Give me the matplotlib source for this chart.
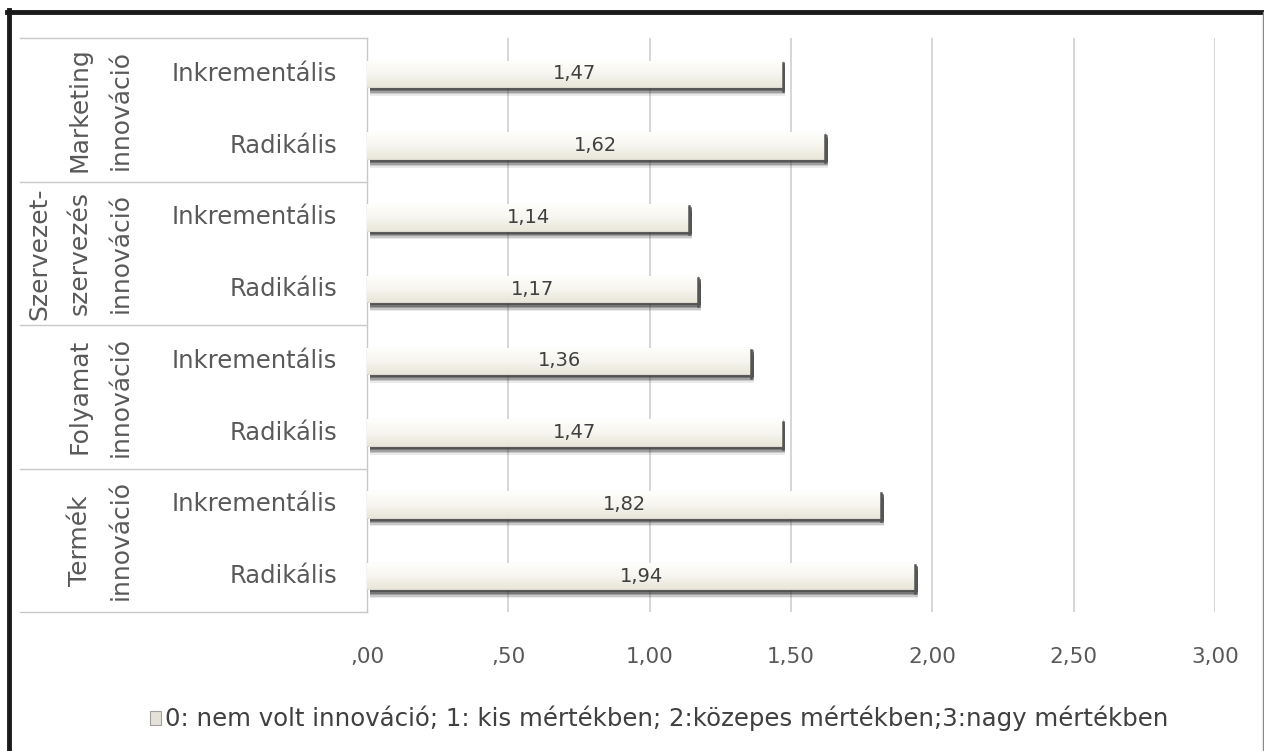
import matplotlib
matplotlib.use("Agg")
import matplotlib.pyplot as plt
from matplotlib.lines import Line2D
from matplotlib.patches import Rectangle
from matplotlib.colors import LinearSegmentedColormap
import numpy as np

groups = ["Marketing\ninnováció", "Szervezet-\nszervezés\ninnováció",
          "Folyamat\ninnováció", "Termék\ninnováció"]
subcats = ["Inkrementális", "Radikális"]
values = [1.47, 1.62, 1.14, 1.17, 1.36, 1.47, 1.82, 1.94]
value_labels = ["1,47", "1,62", "1,14", "1,17", "1,36", "1,47", "1,82", "1,94"]
xticks = [0.0, 0.5, 1.0, 1.5, 2.0, 2.5, 3.0]
xtick_labels = [",00", ",50", "1,00", "1,50", "2,00", "2,50", "3,00"]
legend_text = "0: nem volt innováció; 1: kis mértékben; 2:közepes mértékben;3:nagy mértékben"

W, H = 1264, 751
fig = plt.figure(figsize=(W / 100, H / 100), dpi=100)
fig.patch.set_facecolor("white")

def fx(px):
    return px / W

def fy(py):
    return 1 - py / H

FONT = "DejaVu Sans"
TXT = "#595959"

ax_l, ax_r, ax_t, ax_b = 367, 1215, 38, 612
ax = fig.add_axes([fx(ax_l), fy(ax_b), fx(ax_r - ax_l), fy(ax_t) - fy(ax_b)])
n = len(values)
ax.set_facecolor("white")
for s in ["top", "right", "bottom"]:
    ax.spines[s].set_visible(False)
ax.spines["left"].set_color("#c8c8c8")
ax.spines["left"].set_linewidth(1.0)
ax.set_yticks([])
ax.set_xticks(xticks)
ax.set_xticklabels(xtick_labels, fontsize=15.5, color=TXT, family=FONT)
ax.tick_params(axis="x", length=0, pad=25)
ax.grid(axis="x", color="#d0d0d0", linewidth=1.2)
ax.set_axisbelow(True)

bar_h = 0.37
grad = np.linspace(0, 1, 64).reshape(-1, 1)
cmap = LinearSegmentedColormap.from_list("cream", ["#fefefd", "#f7f6f0", "#e9e6d9"])
for i, v in enumerate(values):
    # blurred shadow below the bar
    for off, a in [(0.12, 0.1), (0.10, 0.18), (0.08, 0.28), (0.06, 0.38), (0.04, 0.5)]:
        ax.add_patch(Rectangle((0.01, i - bar_h / 2 + off), v, bar_h,
                               facecolor="#333333", edgecolor="none", alpha=a, zorder=2))
    bar = ax.barh(i, v, height=bar_h, color="#f4f2ea", edgecolor="#dcdad0",
                  linewidth=0.8, zorder=3)[0]
    im = ax.imshow(grad, extent=[0, v, i + bar_h / 2, i - bar_h / 2], cmap=cmap,
                   aspect="auto", zorder=4, origin="upper")
    im.set_clip_path(bar)
    ax.plot([v, v], [i - bar_h / 2 + 0.03, i + bar_h / 2 + 0.05], color="#555555",
            lw=1.8, zorder=5)
    ax.text(v / 2, i, value_labels[i], ha="center", va="center", fontsize=14,
            color="#404040", family=FONT, zorder=6)
ax.set_xlim(0, 3.0)
ax.set_ylim(n - 0.5, -0.5)

# category table on the left
row_px = (ax_b - ax_t) / n
table_left = 20
for g in range(len(groups) + 1):
    ypx = ax_t + g * 2 * row_px
    fig.add_artist(Line2D([fx(table_left), fx(ax_l)], [fy(ypx), fy(ypx)],
                          color="#c8c8c8", lw=1.0))
for i in range(n):
    ypx = ax_t + (i + 0.5) * row_px
    fig.text(fx(337), fy(ypx), subcats[i % 2], ha="right", va="center",
             fontsize=17.5, color=TXT, family=FONT)
line_x = [121, 80, 39]
for g, lab in enumerate(groups):
    lines = lab.split("\n")
    ycen = ax_t + (2 * g + 1) * row_px
    for k, ln in enumerate(reversed(lines)):
        fig.text(fx(line_x[k]), fy(ycen), ln, rotation=90, ha="center", va="center",
                 fontsize=18, color=TXT, family=FONT)

# legend
fig.add_artist(Rectangle((fx(150), fy(725)), fx(11), fy(711) - fy(725),
                         facecolor="#e4e2d8", edgecolor="#a0a0a0", lw=0.8))
fig.text(fx(165), fy(718), legend_text, ha="left", va="center", fontsize=17.6,
         color="#404040", family=FONT)

# outer frame
fig.add_artist(Line2D([fx(9), fx(9)], [fy(10), 0], color="#1a1a1a", lw=3.5))
fig.add_artist(Line2D([fx(7), 1], [fy(12), fy(12)], color="#1a1a1a", lw=3.5))
fig.add_artist(Line2D([fx(1262.5), fx(1262.5)], [fy(12), 0], color="#8a8a8a", lw=1.0))

fig.savefig("out.png", dpi=100, facecolor="white")
